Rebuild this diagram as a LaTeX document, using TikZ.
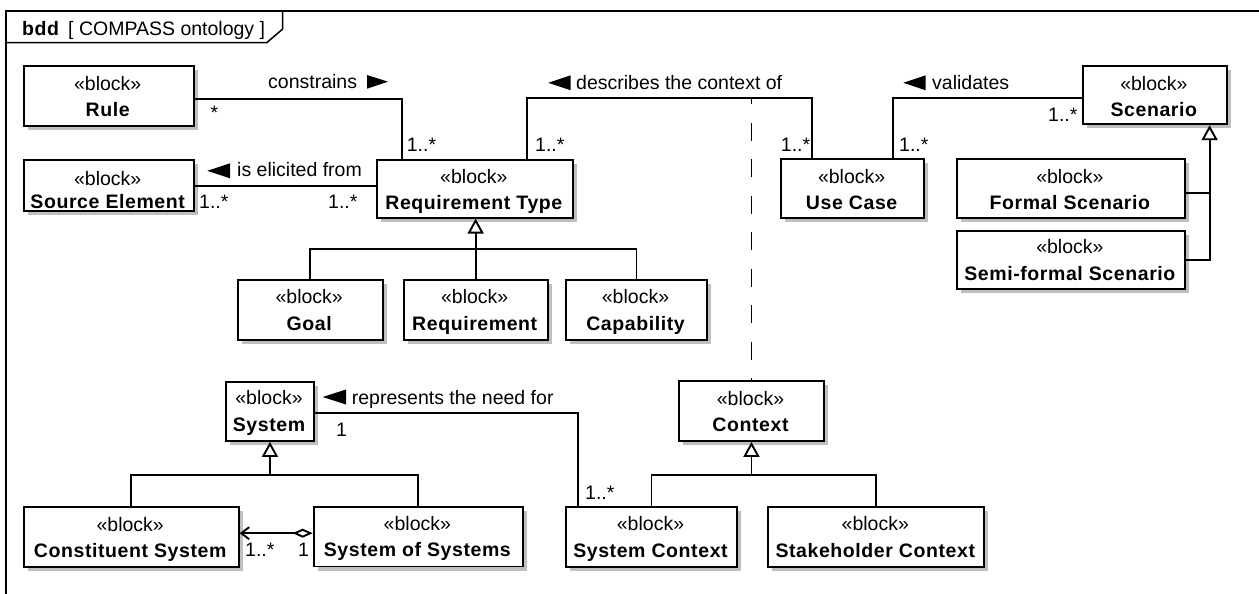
\documentclass[tikz,border=0pt]{standalone}
\usepackage{fontspec}
\setmainfont{Liberation Sans}[BoldFeatures={LetterSpace=3}]
\usetikzlibrary{arrows.meta}

\tikzset{
  blockbox/.style={draw, line width=1.9pt, fill=white, inner sep=0pt, anchor=north west},
  shadowbox/.style={fill=black!25},
  conn/.style={line width=1.9pt},
  frameline/.style={line width=1.9pt},
  txt/.style={inner sep=0pt, font=\fontsize{19.5}{23}\selectfont},
  lbl/.style={txt, anchor=base west},
  stereo/.style={txt, anchor=base},
  bname/.style={txt, anchor=base, font=\fontsize{19.5}{23}\selectfont\bfseries},
  gen/.style={conn, -{Triangle[open, length=15pt, width=16pt]}},
  agg/.style={conn, {Diamond[open, length=20pt, width=9pt]}-{Straight Barb[length=8pt, width=12pt]}},
  dirmark/.style={fill=black},
}

% block with drop shadow: name, x1, y1, x2, y2, baseline of stereotype, baseline of name, title
\newcommand\blk[8]{%
  \fill[shadowbox] ({#2+5},{#3+5}) rectangle ({#4+5},{#5+5});
  \node[blockbox, minimum width={(#4-#2)*1pt}, minimum height={(#5-#3)*1pt}] (#1) at (#2,#3) {};
  \node[stereo] (#1-st) at ({(#2+#4)/2},#6) {«block»};
  \node[bname] (#1-nm) at ({(#2+#4)/2},#7) {#8};
}

\begin{document}
\begin{tikzpicture}[x=1pt, y=-1pt]
\useasboundingbox (0,0) rectangle (1259,594);

% diagram frame and header tab
\draw[frameline] (6,594) -- (6,11) -- (1259,11);
\draw[line width=1.5pt] (6,42.7) -- (266.7,42.7) -- (282.7,29) -- (282.7,11);
\node[lbl, font=\fontsize{19.5}{23}\selectfont\bfseries] (hdr-kind) at (22,35.7) {bdd};
\node[lbl] (hdr-name) at (68,35.7) {[ COMPASS ontology ]};

% blocks
\blk{rule}{22.7}{65}{192.7}{125}{90.7}{116.7}{Rule}
\blk{src}{22.7}{159.3}{192.7}{210}{185}{208.3}{Source Element}
\blk{rt}{376}{159}{571.7}{216.7}{183.3}{209}{Requirement Type}
\blk{uc}{780}{158.3}{923.3}{217.3}{183.3}{209.3}{Use Case}
\blk{scen}{1081.7}{65}{1226}{123.3}{90.7}{116}{Scenario}
\blk{fscen}{955.7}{158.3}{1184}{217.3}{183.3}{209.3}{Formal Scenario}
\blk{sfscen}{955.7}{230}{1184}{288.3}{253.3}{280}{Semi-formal Scenario}
\blk{goal}{236.7}{279.3}{381.7}{339}{303.3}{330}{Goal}
\blk{req}{402.7}{279.3}{546.7}{339}{303.3}{330}{Requirement}
\blk{cap}{565}{279.3}{706}{339}{303.3}{330}{Capability}
\blk{system}{225.3}{380.7}{312.7}{440}{404.3}{431.7}{System}
\blk{context}{678.3}{380}{822.7}{440}{405}{431.7}{Context}
\blk{cs}{22.7}{506}{237.7}{566}{531.7}{557.3}{Constituent System}
\blk{sos}{312.7}{506}{522}{565.5}{530.5}{556.7}{System of Systems}
\blk{sc}{565}{506}{736}{566}{530}{557.3}{System Context}
\blk{stc}{767.3}{506}{983.3}{566}{530}{557.3}{Stakeholder Context}

% associations
\draw[conn] ([yshift=-2.7pt]rule.east) -| ([xshift=25.7pt]rt.north west);
\draw[conn] (src.east) -- (src.east -| rt.west);
\coordinate (dtop) at (context.north |- 0,97.7);
\draw[conn] ([xshift=150.7pt]rt.north west) |- (dtop) -| ([xshift=31.7pt]uc.north west);
\draw[conn, dash pattern=on 18pt off 18.5pt, dash phase=16pt] (context.north) -- (dtop);
\draw[conn] ([xshift=113.3pt]uc.north west) |- ([yshift=-3.2pt]scen.west);
\draw[conn] ([yshift=-2pt]system.east) -| ([xshift=12.7pt]sc.north west);
\coordinate (aggl) at ([yshift=3.5pt]sos.west);
\draw[agg] (aggl) -- (aggl -| cs.east);

% generalizations
\coordinate (rtbar) at (req.north |- 0,249);
\draw[conn] (goal.north) |- (rtbar) -| (cap.north);
\draw[gen] (req.north) -- (req.north |- rt.south);
\coordinate (sg) at ([xshift=-18.3pt]scen.south east);
\draw[conn] ([yshift=-3.9pt]fscen.east) -- ([yshift=-3.9pt]fscen.east -| sg);
\draw[gen] (sfscen.east) -| (sg);
\coordinate (sysbar) at (system.south |- 0,475);
\draw[conn] (cs.north) |- (sysbar) -| (sos.north);
\draw[gen] (sysbar) -- (system.south);
\coordinate (ctxbar) at (context.south |- 0,475);
\draw[conn] (sc.north) |- (ctxbar) -| (stc.north);
\draw[gen] (ctxbar) -- (context.south);

% association names with direction marks
\node[lbl] (a-constrains) at (268,88.3) {constrains};
\fill[dirmark] (367,75) -- (388,81.7) -- (367,88.7) -- cycle;
\node[lbl] (a-elicited) at (237,176.7) {is elicited from};
\fill[dirmark] (230,163.3) -- (207.3,170.8) -- (230,178.3) -- cycle;
\node[lbl] (a-describes) at (576,89.3) {describes the context of};
\fill[dirmark] (570.7,75.3) -- (548.3,82.8) -- (570.7,90.3) -- cycle;
\node[lbl] (a-validates) at (932,89.3) {validates};
\fill[dirmark] (925.7,75.3) -- (903.3,82.8) -- (925.7,90.3) -- cycle;
\node[lbl] (a-represents) at (351.7,404.3) {represents the need for};
\fill[dirmark] (346,389.5) -- (322.7,397) -- (346,404.5) -- cycle;

% multiplicities
\node[lbl] (m-rule) at (210.5,120) {*};
\node[lbl] (m-rt1) at (406.7,151.7) {1..*};
\node[lbl] (m-rt2) at (535,151.7) {1..*};
\node[lbl] (m-uc1) at (780.7,151.7) {1..*};
\node[lbl] (m-uc2) at (899,151.7) {1..*};
\node[lbl] (m-scen) at (1048,121.5) {1..*};
\node[lbl] (m-src) at (199,208.3) {1..*};
\node[lbl] (m-rt3) at (328,208.3) {1..*};
\node[lbl] (m-sys) at (336,436.7) {1};
\node[lbl] (m-sc) at (585,499.3) {1..*};
\node[lbl] (m-cs) at (245,556) {1..*};
\node[lbl] (m-sos) at (298,556) {1};
\end{tikzpicture}
\end{document}
